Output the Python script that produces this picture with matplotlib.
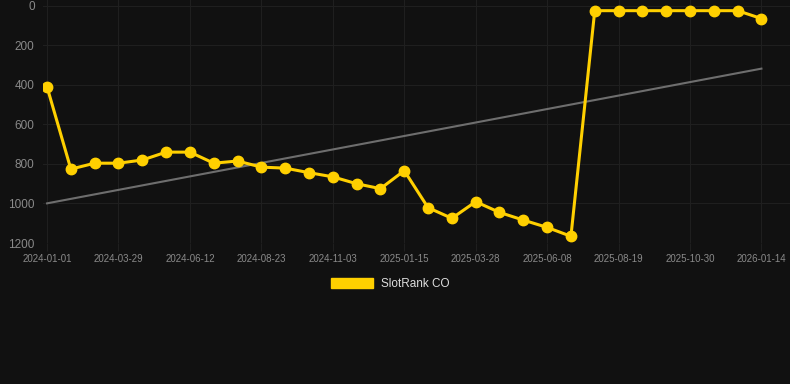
import matplotlib
matplotlib.use("Agg")
import matplotlib.pyplot as plt
import numpy as np

dates = ["2024-01-01", "2024-01-26", "2024-02-20", "2024-03-29", "2024-04-23", "2024-05-18",
         "2024-06-12", "2024-07-07", "2024-08-01", "2024-08-23", "2024-09-17", "2024-10-12",
         "2024-11-03", "2024-11-28", "2024-12-23", "2025-01-15", "2025-02-09", "2025-03-06",
         "2025-03-28", "2025-04-22", "2025-05-17", "2025-06-08", "2025-07-03", "2025-07-28",
         "2025-08-19", "2025-09-13", "2025-10-08", "2025-10-30", "2025-11-24", "2025-12-19",
         "2026-01-14"]
ranks = [410, 826, 796, 796, 780, 740, 740, 796, 785, 816, 821, 844, 865, 900, 925,
         834, 1021, 1075, 991, 1045, 1084, 1121, 1166, 24, 24, 24, 24, 24, 24, 24, 64]
series_name = "SlotRank CO"

bg = "#111111"
fig = plt.figure(figsize=(7.9, 3.84), dpi=100, facecolor=bg)
ax = fig.add_axes([43/790, (384-243)/384, 1-43/790, 243/384])
ax.set_facecolor(bg)

x = np.arange(len(ranks))
coef = np.polyfit(x, ranks, 1)
ax.plot(x, np.polyval(coef, x), color="#6e6e6e", lw=1.5, zorder=2)
ax.plot(x, ranks, color="#FFD000", lw=2.2, marker="o", ms=7.5, zorder=3, label=series_name)

ax.set_ylim(1200, -30)
ax.set_xlim(-0.17, 31.2)
ax.set_yticks([0, 200, 400, 600, 800, 1000, 1200])
ticks = x[::3]
ax.set_xticks(ticks)
ax.set_xticklabels([dates[i] for i in ticks])
ax.grid(True, color="#1f1f1f", lw=0.8)
for s in ax.spines.values():
    s.set_visible(False)
ax.tick_params(axis="x", colors="#1f1f1f", labelcolor="#8a8a8a", labelsize=7, length=6, width=0.8, pad=2,
               labelfontfamily="Liberation Sans")
ax.tick_params(axis="y", colors="#1f1f1f", labelcolor="#8a8a8a", labelsize=8.5, length=0, pad=6,
               labelfontfamily="Liberation Sans")

handle = plt.Rectangle((0, 0), 1, 1, color="#FFD000")
fig.legend([handle], [series_name], loc="center", bbox_to_anchor=(390/790, 1-284/384), frameon=False,
           handlelength=3.6, handleheight=1.0, handletextpad=0.6,
           prop={"family": "Liberation Sans", "size": 8.5}, labelcolor="#dddddd")

fig.savefig("out.png", dpi=100, facecolor=bg)
